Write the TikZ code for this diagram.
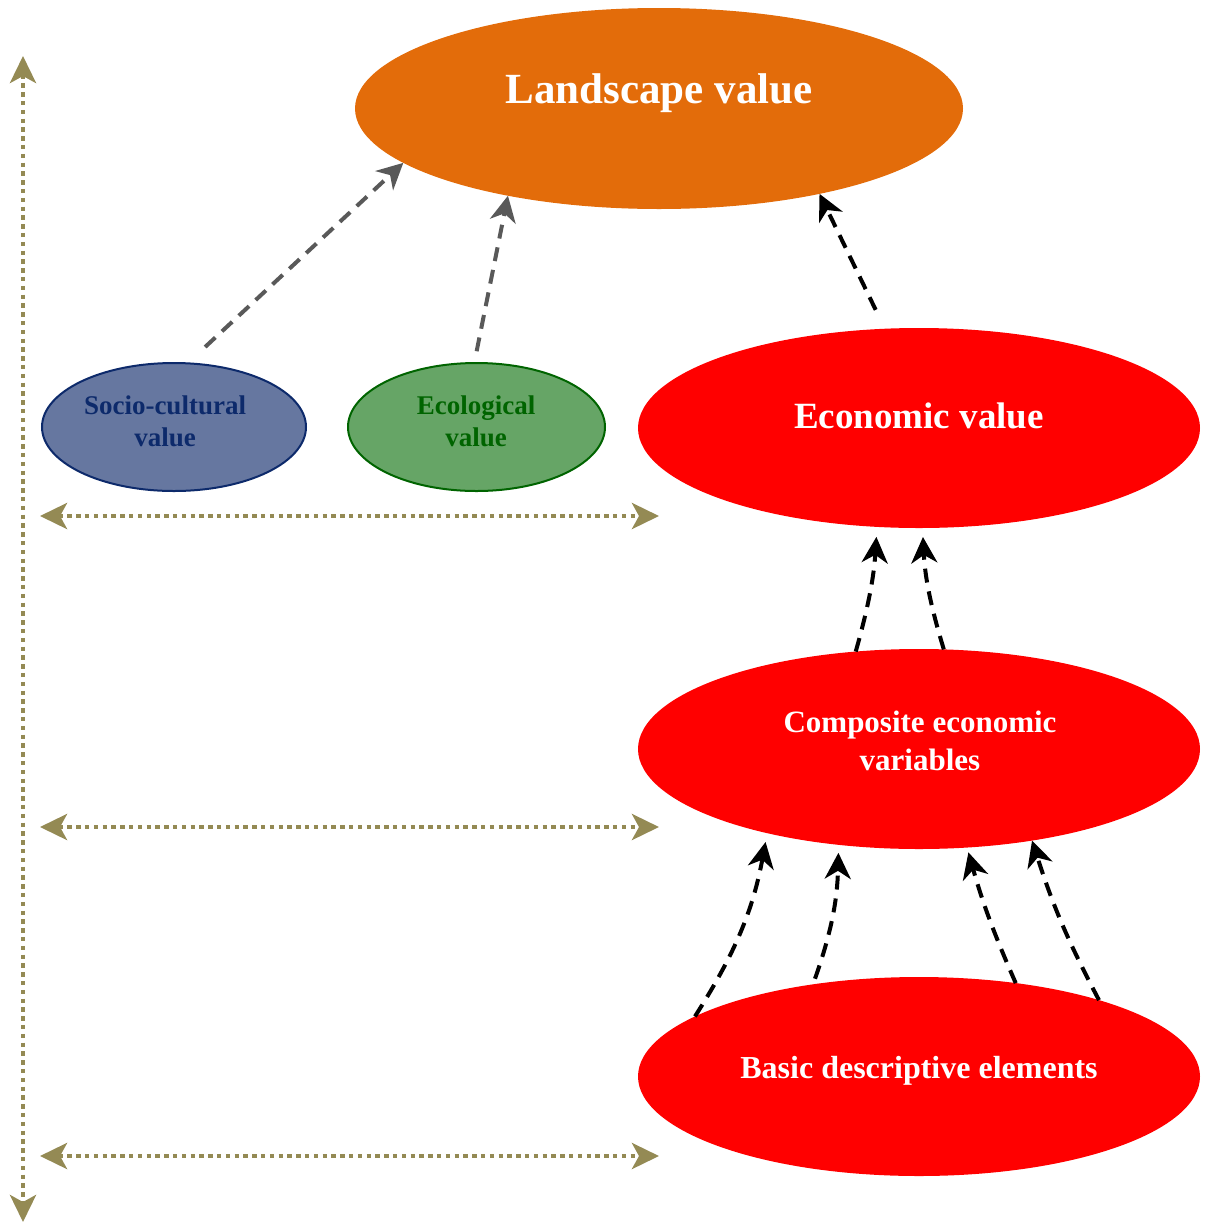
\documentclass[tikz,border=0pt]{standalone}
\usepackage{fontspec}
\setmainfont{Liberation Serif}
\usetikzlibrary{arrows.meta,shapes.geometric}
\definecolor{orangeL}{HTML}{E36C0A}
\definecolor{redE}{HTML}{FF0000}
\definecolor{socioFill}{HTML}{6677A0}
\definecolor{socioLine}{HTML}{0D2A6B}
\definecolor{ecoFill}{HTML}{66A566}
\definecolor{ecoLine}{HTML}{006400}
\definecolor{olive}{HTML}{948A54}
\definecolor{grayA}{HTML}{595959}
\tikzset{
  blob/.style={ellipse, inner sep=0pt, outer sep=0pt},
  lbl/.style={font=\bfseries, inner sep=0pt, align=center},
  olivearrow/.style={draw=olive, line width=4.5pt, dash pattern=on 4.5pt off 4.3pt,
    {Stealth[length=27pt,width=26pt,inset=7pt,fill=olive]}-{Stealth[length=27pt,width=26pt,inset=7pt,fill=olive]}},
  flowarrow/.style={line width=4pt, dash pattern=on 14pt off 9pt,
    -{Stealth[length=26pt,width=26pt,inset=8pt]}},
  grayflow/.style={flowarrow, draw=grayA},
  blackflow/.style={flowarrow, draw=black},
}
\begin{document}
\begin{tikzpicture}[x=1pt,y=-1pt]
\useasboundingbox (0,0) rectangle (1205,1224);
% ellipses
\node[blob, fill=orangeL, minimum width=608pt, minimum height=201pt] (land) at (659,108.5) {};
\node[blob, fill=redE, minimum width=562pt, minimum height=200pt] (econ) at (919,428) {};
\node[blob, fill=redE, minimum width=562pt, minimum height=200pt] (comp) at (919,749) {};
\node[blob, fill=redE, minimum width=562pt, minimum height=199pt] (basic) at (919,1076.5) {};
\node[blob, draw=socioLine, fill=socioFill, line width=2pt, minimum width=264pt, minimum height=128pt] (socio) at (174,427) {};
\node[blob, draw=ecoLine, fill=ecoFill, line width=2pt, minimum width=257pt, minimum height=128pt] (eco) at (476.5,427) {};
% texts
\node[lbl, text=white, font=\bfseries\fontsize{43}{50}\selectfont, anchor=base] (landT) at (659,103) {Landscape value};
\node[lbl, text=white, font=\bfseries\fontsize{37}{42}\selectfont, anchor=base] (econT) at (919,428) {Economic value};
\node[lbl, text=white, font=\bfseries\fontsize{31}{38}\selectfont] (compT) at (920,740.5) {Composite economic\\variables};
\node[lbl, text=white, font=\bfseries\fontsize{32}{38}\selectfont, anchor=base] (basicT) at (919,1078) {Basic descriptive elements};
\node[lbl, text=socioLine, font=\bfseries\fontsize{27}{32}\selectfont] (socioT) at (165,421.5) {Socio-cultural\\value};
\node[lbl, text=ecoLine, font=\bfseries\fontsize{27}{32}\selectfont] (ecoT) at (476,421.5) {Ecological\\value};
% olive dotted guides
\coordinate (vTop) at (23,56);
\coordinate (vBot) at (23,1222);
\coordinate (h1L) at (40,516);
\coordinate (h1R) at (659,516);
\coordinate (h2L) at (40,827);
\coordinate (h2R) at (659,827);
\coordinate (h3L) at (40,1156);
\coordinate (h3R) at (659,1156);
\draw[olivearrow] (vTop) -- (vBot);
\draw[olivearrow] (h1L) -- (h1R);
\draw[olivearrow] (h2L) -- (h2R);
\draw[olivearrow] (h3L) -- (h3R);
% flows to landscape
\draw[grayflow, shorten <=24pt] (socio.78) -- (land.192);
\draw[grayflow, shorten <=12pt] (eco.92) -- (land.210);
\draw[blackflow, shorten <=21pt] (econ.109) -- (land.332);
% composite to economic
\draw[blackflow, shorten >=10pt] (comp.123) to[bend right=6] (econ.247);
\draw[blackflow, shorten >=9pt] (comp.76) to[bend left=7] (econ.272);
% basic to composite
\draw[blackflow, shorten >=9pt] (basic.165) to[bend right=11] (comp.209);
\draw[blackflow, shorten <=6pt, shorten >=8pt] (basic.139) to[bend right=9] (comp.230);
\draw[blackflow, shorten >=5pt] (basic.44) to[bend left=4] (comp.296);
\draw[blackflow] (basic.23) to[bend left=5] (comp.321);
\end{tikzpicture}
\end{document}
